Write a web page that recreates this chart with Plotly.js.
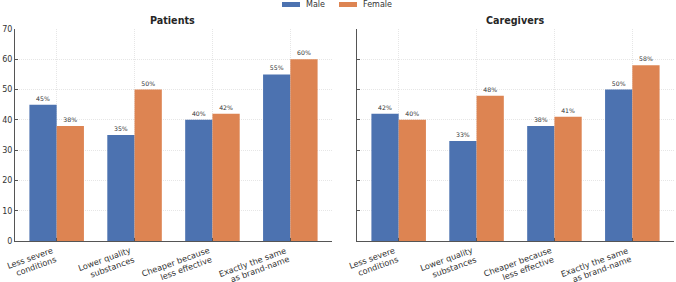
<!DOCTYPE html>
<html>
<head>
<meta charset="utf-8">
<script src="https://cdn.plot.ly/plotly-3.0.1.min.js"></script>
<style>html,body{margin:0;padding:0;background:#fff;}#chart{width:676px;height:282px;}</style>
</head>
<body>
<div id="chart"></div>
<script>
const categories = ["Less severe<br>conditions", "Lower quality<br>substances", "Cheaper because<br>less effective", "Exactly the same<br>as brand-name"];
const patientsMale = [45, 35, 40, 55];
const patientsFemale = [38, 50, 42, 60];
const caregiversMale = [42, 33, 38, 50];
const caregiversFemale = [40, 48, 41, 58];
const seriesNames = ["Male", "Female"];
const panelTitles = ["Patients", "Caregivers"];
const yTicks = [0, 10, 20, 30, 40, 50, 60, 70];

const blue = "#4C72B0", orange = "#DD8452";
const font = "DejaVu Sans, sans-serif";
const idx = categories.map((_, i) => i);

function bar(vals, name, color, xa, ya) {
  const tf = {family: font, size: 6.2, color: "#333"};
  return {
    type: "bar", x: idx, y: vals, name: name, xaxis: xa, yaxis: ya,
    marker: {color: color, line: {width: 0}},
    text: vals.map(v => v + "%"), textposition: "outside",
    textfont: tf, outsidetextfont: tf,
    cliponaxis: false, showlegend: false
  };
}

const data = [
  bar(patientsMale, seriesNames[0], blue, "x", "y"),
  bar(patientsFemale, seriesNames[1], orange, "x", "y"),
  bar(caregiversMale, seriesNames[0], blue, "x2", "y2"),
  bar(caregiversFemale, seriesNames[1], orange, "x2", "y2")
];

const W = 676, H = 282, T = 29, B = 41;
const ph = H - T - B;
const py = p => (H - B - p) / ph;   // pixel row -> paper y
const px = p => p / W;
const catPx = 78;                    // approx pixels per category unit (for label offsets only)

const gridCol = "#e6e6e6", lineCol = "#555";
function xax(domain, anchor) {
  return {
    domain: domain, anchor: anchor, range: [-0.535, 3.535],
    tickmode: "array", tickvals: idx, showticklabels: false,
    showgrid: true, gridcolor: gridCol, griddash: "1px,1px", gridwidth: 1,
    showline: true, linecolor: lineCol, linewidth: 1,
    ticks: "inside", ticklen: 3, tickcolor: lineCol, zeroline: false, automargin: false
  };
}
function yax(anchor, labels) {
  return {
    anchor: anchor, domain: [0, 1], range: [0, 70],
    tickmode: "array", tickvals: yTicks, showticklabels: labels,
    tickfont: {family: font, size: 8, color: "#333"},
    showgrid: true, gridcolor: gridCol, griddash: "1px,1px", gridwidth: 1,
    showline: true, linecolor: lineCol, linewidth: 1,
    ticks: "inside", ticklen: 3, tickcolor: lineCol, zeroline: false, automargin: false
  };
}

const annotations = [];
const shapes = [];
const ang = 20 * Math.PI / 180, ls = 9.4;
[["x", 173], ["x2", 515]].forEach(([xa, cx], k) => {
  annotations.push({text: "<b>" + panelTitles[k] + "</b>", xref: "paper", yref: "paper",
    x: px(cx), y: py(20.5), xanchor: "center", yanchor: "middle", showarrow: false,
    font: {family: font, size: 9.6, color: "#262626"}});
  categories.forEach((c, i) => {
    c.split("<br>").forEach((line, j) => {
      const dx = -1 + j * ls * Math.sin(ang), dy = 244 + j * ls * Math.cos(ang);
      annotations.push({text: line, xref: xa, yref: "paper", x: i + dx / catPx, y: py(dy),
        xanchor: "right", yanchor: "top", textangle: -20, showarrow: false,
        font: {family: font, size: 8.2, color: "#333"}, borderpad: 0});
    });
  });
});
// legend (drawn manually to get wide swatches)
const legendItems = [[seriesNames[0], blue, 282], [seriesNames[1], orange, 339]];
legendItems.forEach(([name, col, x0]) => {
  shapes.push({type: "rect", xref: "paper", yref: "paper", x0: px(x0), x1: px(x0 + 18),
    y0: py(7), y1: py(2), fillcolor: col, line: {width: 0}});
  annotations.push({text: name, xref: "paper", yref: "paper", x: px(x0 + 22), y: py(4.5),
    xanchor: "left", yanchor: "middle", showarrow: false,
    font: {family: font, size: 8, color: "#333"}});
});

const layout = {
  width: W, height: H,
  margin: {l: 0, r: 0, t: T, b: B, pad: 0},
  paper_bgcolor: "#fff", plot_bgcolor: "#fff",
  barmode: "group", bargap: 0.3, bargroupgap: 0,
  font: {family: font, color: "#333"},
  showlegend: false,
  xaxis: xax([15 / W, 332 / W], "y"),
  xaxis2: xax([357 / W, 674 / W], "y2"),
  yaxis: yax("x", true),
  yaxis2: yax("x2", false),
  annotations: annotations,
  shapes: shapes
};

Plotly.newPlot("chart", data, layout, {displayModeBar: false, staticPlot: true});
</script>
</body>
</html>
